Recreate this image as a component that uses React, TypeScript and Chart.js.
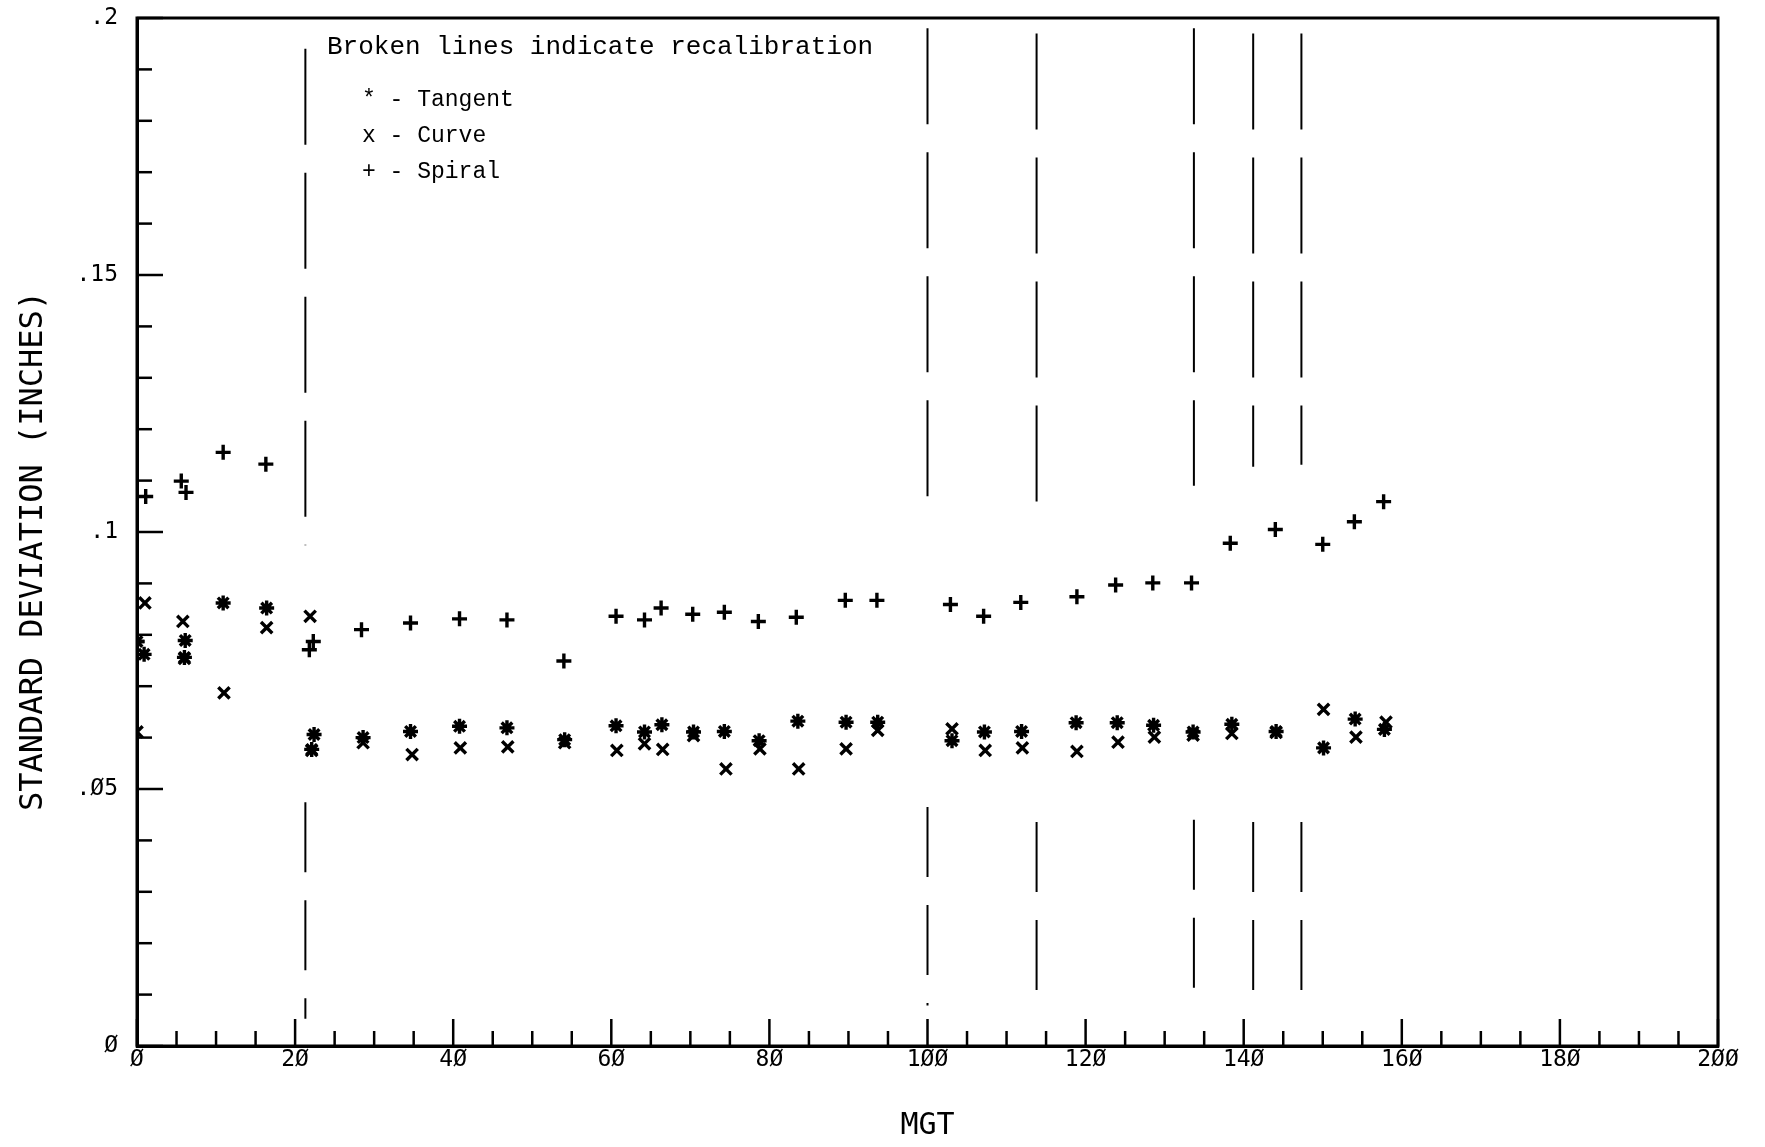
import React, { useEffect, useRef } from "react";
import { Chart, registerables } from "chart.js";

Chart.register(...registerables);

// ---------------- DATA ----------------
const tangentMGT = [0, 0.9, 6.1, 6.0, 10.9, 16.4, 22.4, 22.1, 28.6, 34.6, 40.8, 46.8, 54.1, 60.6, 64.2, 66.4, 70.4, 74.3, 78.7, 83.6, 89.7, 93.7, 103.1, 107.2, 111.9, 118.8, 124.0, 128.6, 133.6, 138.5, 144.1, 150.1, 154.1, 157.8];
const tangentSD = [0.0787, 0.0762, 0.0789, 0.0756, 0.0862, 0.0852, 0.0606, 0.0577, 0.0600, 0.0612, 0.0622, 0.0619, 0.0596, 0.0623, 0.0611, 0.0625, 0.0611, 0.0612, 0.0594, 0.0632, 0.0630, 0.0630, 0.0594, 0.0611, 0.0612, 0.0629, 0.0629, 0.0624, 0.0611, 0.0626, 0.0612, 0.0580, 0.0636, 0.0616];

const curveMGT = [0, 1.0, 5.8, 6.0, 11.0, 16.4, 21.9, 22.1, 28.6, 34.8, 40.9, 46.9, 54.1, 60.7, 64.2, 66.5, 70.4, 74.5, 78.8, 83.7, 89.7, 93.7, 103.1, 107.3, 112.0, 118.9, 124.1, 128.7, 133.6, 138.5, 144.1, 150.1, 154.2, 158.0];
const curveSD = [0.0611, 0.0862, 0.0826, 0.0754, 0.0687, 0.0814, 0.0836, 0.0575, 0.0590, 0.0567, 0.0580, 0.0582, 0.0590, 0.0575, 0.0588, 0.0577, 0.0604, 0.0539, 0.0578, 0.0539, 0.0578, 0.0614, 0.0617, 0.0575, 0.0580, 0.0573, 0.0591, 0.0601, 0.0605, 0.0608, 0.0610, 0.0655, 0.0601, 0.0630];

const spiralMGT = [0, 1.1, 5.6, 6.2, 10.9, 16.3, 22.3, 21.8, 28.4, 34.6, 40.8, 46.8, 54.0, 60.6, 64.2, 66.3, 70.3, 74.3, 78.6, 83.4, 89.6, 93.6, 102.9, 107.1, 111.8, 118.9, 123.8, 128.5, 133.4, 138.3, 144.0, 150.0, 154.0, 157.7];
const spiralSD = [0.0787, 0.1069, 0.1099, 0.1077, 0.1155, 0.1132, 0.0787, 0.0771, 0.0810, 0.0823, 0.0831, 0.0829, 0.0749, 0.0836, 0.0829, 0.0852, 0.0840, 0.0844, 0.0826, 0.0834, 0.0867, 0.0867, 0.0859, 0.0836, 0.0863, 0.0874, 0.0897, 0.0901, 0.0901, 0.0978, 0.1005, 0.0976, 0.1020, 0.1059];

// recalibration (broken) lines
const recalMGT = [21.3, 100.0, 113.8, 133.7, 141.2, 147.3];
const recalUpperTop = [0.194, 0.198, 0.197, 0.198, 0.197, 0.197];
const recalUpperBottom = [0.0974, 0.1044, 0.1053, 0.109, 0.1127, 0.1131];
const recalLowerTop = [0.0474, 0.0465, 0.0436, 0.044, 0.0436, 0.0436];
const recalLowerBottom = [0.0053, 0.0079, 0.0061, 0.007, 0.0079, 0.0079];

const xTickValues = [0, 20, 40, 60, 80, 100, 120, 140, 160, 180, 200];
const xTickLabels = ["Ø", "2Ø", "4Ø", "6Ø", "8Ø", "1ØØ", "12Ø", "14Ø", "16Ø", "18Ø", "2ØØ"];
const yTickValues = [0, 0.05, 0.1, 0.15, 0.2];
const yTickLabels = ["Ø", ".Ø5", ".1", ".15", ".2"];

const xTitle = "MGT";
const yTitle = "STANDARD DEVIATION (INCHES)";
const noteText = "Broken lines indicate recalibration";
const legendLines = ["* - Tangent", "x - Curve", "+ - Spiral"];

// ---------------- HELPERS ----------------
const W = 1765;
const H = 1147;
const plotFont = "'DejaVu Sans Mono', monospace";
const typeFont = "'Liberation Mono', 'Courier New', monospace";

function labelFor(values: number[], labels: string[], v: number) {
  for (let i = 0; i < values.length; i++) {
    if (Math.abs(values[i] - v) < 1e-6) return labels[i];
  }
  return "";
}

function pts(xs: number[], ys: number[]) {
  return xs.map((x, i) => ({ x, y: ys[i] }));
}

const framePlugin = {
  id: "frameTicksText",
  afterDraw(chart: any) {
    const { ctx, chartArea, scales } = chart;
    const { left, right, top, bottom } = chartArea;
    const xs = scales.x;
    const ys = scales.y;
    ctx.save();
    ctx.strokeStyle = "#000";
    ctx.lineCap = "butt";
    ctx.lineWidth = 2.5;
    for (let v = 0; v <= 200; v += 5) {
      const px = xs.getPixelForValue(v);
      const len = v % 20 === 0 ? 27 : 15;
      ctx.beginPath();
      ctx.moveTo(px, bottom);
      ctx.lineTo(px, bottom - len);
      ctx.stroke();
    }
    for (let k = 0; k <= 20; k++) {
      const py = ys.getPixelForValue(k / 100);
      const len = k % 5 === 0 ? 26 : 15;
      ctx.beginPath();
      ctx.moveTo(left, py);
      ctx.lineTo(left + len, py);
      ctx.stroke();
    }
    ctx.lineWidth = 3;
    ctx.strokeRect(left, top, right - left, bottom - top);

    ctx.fillStyle = "#000";
    ctx.textBaseline = "middle";
    ctx.textAlign = "left";
    ctx.font = `26px ${typeFont}`;
    ctx.fillText(noteText, left + 190, top + 29);
    ctx.font = `23px ${typeFont}`;
    legendLines.forEach((t, i) => {
      ctx.fillText(t, left + 225, top + 82 + i * 36);
    });

    // y axis title (rotated)
    ctx.save();
    ctx.translate(34, (top + bottom) / 2 + 19);
    ctx.rotate(-Math.PI / 2);
    ctx.textAlign = "center";
    ctx.textBaseline = "middle";
    ctx.font = `32px ${plotFont}`;
    ctx.fillText(yTitle, 0, 0);
    ctx.restore();

    ctx.restore();
  },
};

export default function App() {
  const ref = useRef<HTMLCanvasElement | null>(null);

  useEffect(() => {
    const canvas = ref.current;
    if (!canvas) return;

    const recalDatasets: any[] = [];
    recalMGT.forEach((m, i) => {
      recalDatasets.push({
        type: "line",
        data: [
          { x: m, y: recalUpperTop[i] },
          { x: m, y: recalUpperBottom[i] },
        ],
        borderColor: "#000",
        borderWidth: 2,
        borderDash: [96, 28],
        pointRadius: 0,
        fill: false,
      });
      recalDatasets.push({
        type: "line",
        data: [
          { x: m, y: recalLowerTop[i] },
          { x: m, y: recalLowerBottom[i] },
        ],
        borderColor: "#000",
        borderWidth: 2,
        borderDash: [70, 28],
        pointRadius: 0,
        fill: false,
      });
    });

    const markerCommon = {
      borderColor: "#000",
      backgroundColor: "#000",
      borderWidth: 3.4,
      showLine: false,
    };

    const chart = new Chart(canvas, {
      type: "scatter",
      data: {
        datasets: [
          ...recalDatasets,
          { label: "Tangent", data: pts(tangentMGT, tangentSD), pointStyle: "star", pointRadius: 7.5, ...markerCommon },
          { label: "Curve", data: pts(curveMGT, curveSD), pointStyle: "crossRot", pointRadius: 8, ...markerCommon },
          { label: "Spiral", data: pts(spiralMGT, spiralSD), pointStyle: "cross", pointRadius: 7.5, ...markerCommon },
        ],
      },
      options: {
        responsive: false,
        animation: false,
        devicePixelRatio: 1,
        layout: { padding: { left: 0, right: 47, top: 18, bottom: 0 } },
        plugins: {
          legend: { display: false },
          tooltip: { enabled: false },
        },
        scales: {
          x: {
            type: "linear",
            min: 0,
            max: 200,
            afterBuildTicks: (s: any) => {
              s.ticks = xTickValues.map((v) => ({ value: v }));
            },
            afterFit: (s: any) => {
              s.height = H - 1046;
              s.paddingLeft = 0;
              s.paddingRight = 0;
            },
            grid: { display: false, drawTicks: false },
            border: { display: true, width: 3, color: "#000" },
            ticks: {
              color: "#000",
              font: { family: plotFont, size: 23 },
              padding: 0,
              maxRotation: 0,
              autoSkip: false,
              callback: (v: any) => labelFor(xTickValues, xTickLabels, Number(v)),
            },
            title: {
              display: true,
              text: xTitle,
              color: "#000",
              font: { family: plotFont, size: 30 },
              padding: { top: 0, bottom: 3 },
            },
          },
          y: {
            type: "linear",
            min: 0,
            max: 0.2,
            afterBuildTicks: (s: any) => {
              s.ticks = yTickValues.map((v) => ({ value: v }));
            },
            afterFit: (s: any) => {
              s.width = 137;
              s.paddingTop = 0;
              s.paddingBottom = 0;
            },
            grid: { display: false, drawTicks: false },
            border: { display: true, width: 3, color: "#000" },
            ticks: {
              color: "#000",
              font: { family: plotFont, size: 23 },
              padding: 19,
              autoSkip: false,
              callback: (v: any) => labelFor(yTickValues, yTickLabels, Number(v)),
            },
            title: { display: false },
          },
        },
      },
      plugins: [framePlugin],
    } as any);

    return () => {
      chart.destroy();
    };
  }, []);

  return (
    <div style={{ position: "absolute", left: 0, top: 0, width: W, height: H, background: "#fff" }}>
      <canvas ref={ref} width={W} height={H} style={{ display: "block", width: W, height: H }} />
    </div>
  );
}
